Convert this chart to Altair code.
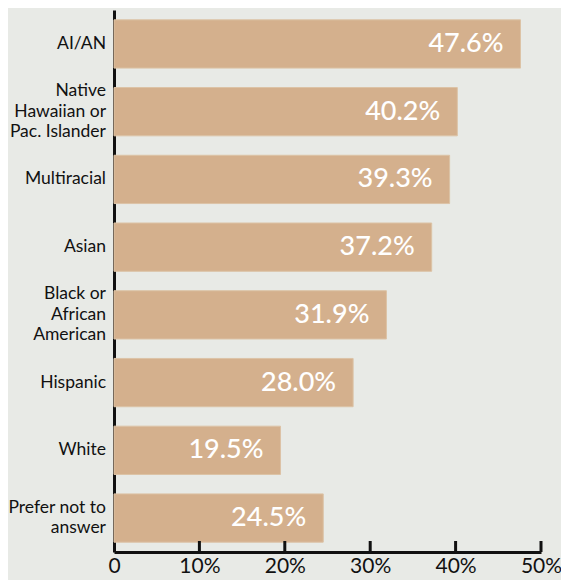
import altair as alt
import pandas as pd

categories = ["AI/AN", "Native|Hawaiian or|Pac. Islander", "Multiracial", "Asian",
              "Black or|African|American", "Hispanic", "White", "Prefer not to|answer"]
values = [47.6, 40.2, 39.3, 37.2, 31.9, 28.0, 19.5, 24.5]
tick_values = [0, 10, 20, 30, 40, 50]

df = pd.DataFrame({"cat": categories, "val": values,
                   "txt": [f"{v:.1f}%" for v in values]})
ticks = pd.DataFrame({"t": tick_values[1:]})

rows = []
for c in categories:
    parts = c.split("|")
    n = len(parts)
    for i, p in enumerate(parts):
        rows.append({"cat": c, "line": p, "k": i - (n - 1) / 2})
lines = pd.DataFrame(rows)

FONT = "Lato"
BG = "#e8eae6"
BAR = "#d4b08d"
LINE_H = 20.5

x_scale = alt.Scale(domain=[0, 50], nice=False)
y_scale = alt.Scale(paddingInner=0.287, paddingOuter=0.145)

base = alt.Chart(df)
bars = base.mark_bar(color=BAR, stroke="#dcc3a6", strokeWidth=1).encode(
    x=alt.X("val:Q", scale=x_scale, title=None,
            axis=alt.Axis(values=tick_values, grid=False, tickSize=0,
                          domainColor="#111111", domainWidth=3,
                          labelFont=FONT, labelFontSize=21, labelColor="#111111",
                          labelPadding=3, labelFlush=False,
                          labelExpr="datum.value == 0 ? '0' : datum.value + '%'")),
    y=alt.Y("cat:N", sort=categories, scale=y_scale, title=None,
            axis=alt.Axis(ticks=False, labels=False, domainColor="#111111",
                          domainWidth=3)),
)
text = base.mark_text(align="right", baseline="middle", dx=-17, font=FONT,
                      fontSize=27, color="white", fontWeight=500).encode(
    x=alt.X("val:Q", scale=x_scale),
    y=alt.Y("cat:N", sort=categories, scale=y_scale),
    text="txt:N",
)

label_layers = []
for k in sorted(set(lines["k"])):
    label_layers.append(
        alt.Chart(lines).transform_filter(alt.datum.k == k).mark_text(
            align="right", baseline="middle", font=FONT, fontSize=17.5,
            color="#111111", dy=k * LINE_H
        ).encode(
            x=alt.value(-8),
            y=alt.Y("cat:N", sort=categories, scale=y_scale),
            text="line:N",
        )
    )

tick_rules = alt.Chart(ticks).mark_rule(color="#111111", strokeWidth=3).encode(
    x=alt.X("t:Q", scale=x_scale),
    y=alt.value(531), y2=alt.value(542),
)

chart = alt.layer(bars, text, tick_rules, *label_layers).properties(
    width=427, height=542,
    background=BG,
    autosize=alt.AutoSizeParams(type="none"),
    padding={"left": 106, "top": 2, "right": 20, "bottom": 28},
).configure_view(stroke=None)

chart.save("out.html", embed_options={"renderer": "svg", "actions": False})
